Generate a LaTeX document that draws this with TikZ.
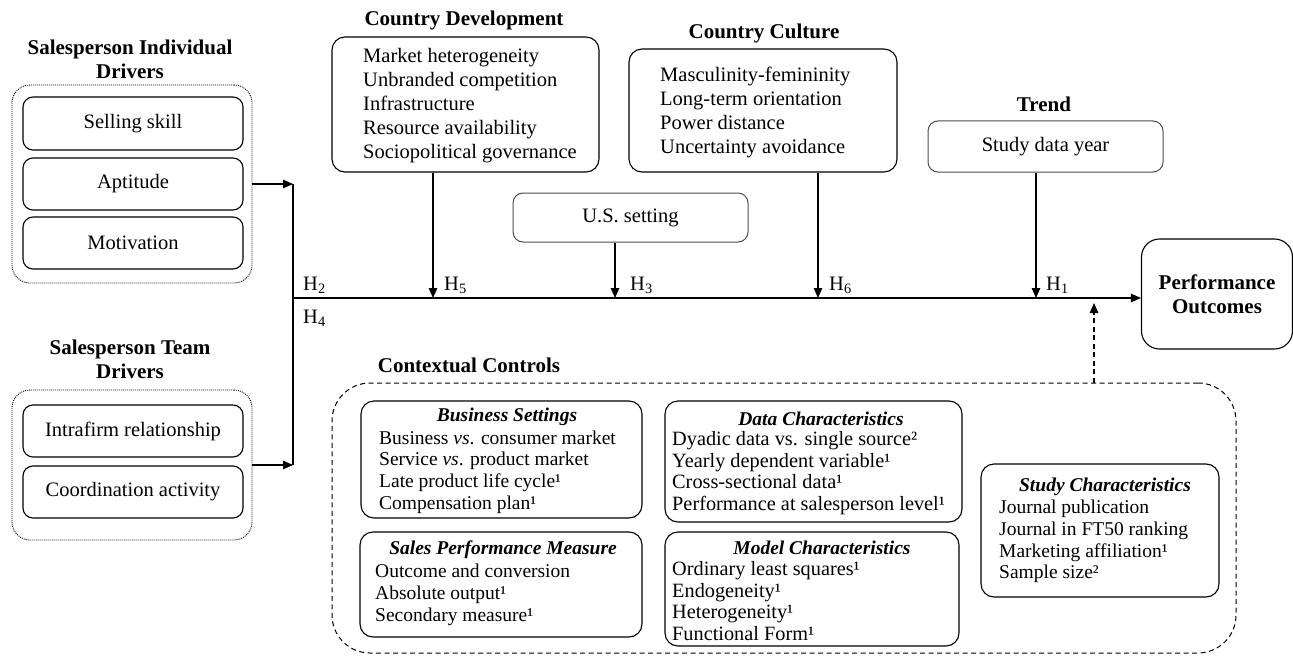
\documentclass[tikz,border=0pt]{standalone}
\usepackage{fontspec}
\setmainfont{Liberation Serif}
\usetikzlibrary{arrows.meta}
\newcommand\myMain{\fontsize{20.5}{24}\selectfont}
\newcommand\myTitle{\fontsize{21}{24}\selectfont\bfseries}
\newcommand\mySmall{\fontsize{19.5}{21.7}\selectfont}
\newcommand\myMid{\fontsize{20.3}{21.5}\selectfont}
\begin{document}
\begin{tikzpicture}[x=1pt,y=-1pt,
  box/.style={draw, rounded corners=13pt, line width=1.1pt, inner sep=0pt},
  lbox/.style={draw=black!70, rounded corners=10pt, line width=1pt, font=\myMain, inner sep=0pt},
  ibox/.style={draw, rounded corners=10pt, line width=1.1pt, font=\myMain, minimum width=220pt, inner sep=0pt},
  dotbox/.style={draw, dash pattern=on 1pt off 1pt, line width=0.9pt, rounded corners=18pt, inner sep=0pt},
  titl/.style={font=\myTitle, align=center, inner sep=0pt},
  lst/.style={font=\myMain, align=left, inner sep=0pt, anchor=west},
  slst/.style={font=\mySmall, align=left, inner sep=0pt, anchor=west},
  mlst/.style={font=\myMid, align=left, inner sep=0pt, anchor=west},
  stit/.style={font=\mySmall\bfseries\itshape, inner sep=0pt},
  hl/.style={font=\myMain, inner sep=0pt, anchor=west},
  arr/.style={-{Triangle[length=10pt,width=8.5pt]}, line width=1.1pt},
  ln/.style={line width=1.1pt}
]
\useasboundingbox (0,0) rectangle (1293,658);

% ---- Salesperson Individual Drivers
\node[titl] (sititle) at (130,59) {Salesperson Individual\\Drivers};
\node[dotbox, minimum width=240pt, minimum height=198pt] (si) at (132,184) {};
\node[ibox, minimum height=53pt] (sell) at (133,123.5) {Selling skill};
\node[ibox, minimum height=52pt] (apt) at (133,184) {Aptitude};
\node[ibox, minimum height=52pt] (mot) at (133,243) {Motivation};

% ---- Salesperson Team Drivers
\node[titl] (sttitle) at (130,359.5) {Salesperson Team\\Drivers};
\node[dotbox, minimum width=240pt, minimum height=150pt] (st) at (132,465) {};
\node[ibox, minimum height=52pt] (intra) at (133,431) {Intrafirm relationship};
\node[ibox, minimum height=52pt] (coord) at (133,492) {Coordination activity};

% ---- junctions and main path
\coordinate (j1) at (293,184);
\coordinate (j2) at (293,465);
\coordinate (jm) at (293,298);
\draw[arr] (si.east) -- (j1);
\draw[arr] (st.east) -- (j2);
\draw[ln] (j1) -- (j2);

% ---- Performance Outcomes
\node[box, rounded corners=18pt, minimum width=151pt, minimum height=110pt, font=\myTitle, align=center] (perf) at (1217,294) {Performance\\Outcomes};
\draw[arr] (jm) -- (jm -| perf.west);

% ---- Country Development
\node[titl] (devt) at (464,20) {Country Development};
\node[box, minimum width=267pt, minimum height=135pt] (dev) at (465.5,104.5) {};
\node[lst] (devtx) at (363,106) {Market heterogeneity\\Unbranded competition\\Infrastructure\\Resource availability\\Sociopolitical governance};

% ---- Country Culture
\node[titl] (cult) at (764,33) {Country Culture};
\node[box, minimum width=268pt, minimum height=123pt] (cul) at (763,110.5) {};
\node[lst] (cultx) at (660,112) {Masculinity-femininity\\Long-term orientation\\Power distance\\Uncertainty avoidance};

% ---- U.S. setting
\node[lbox, minimum width=235pt, minimum height=49pt] (us) at (630.5,217.5) {U.S. setting};

% ---- Trend
\node[titl] (trt) at (1044,104) {Trend};
\node[lbox, minimum width=235pt, minimum height=51pt] (sdy) at (1045.5,146.5) {Study data year};

% ---- moderating arrows
\coordinate (h5) at (433,298);
\coordinate (h3) at (615,298);
\coordinate (h6) at (818,298);
\coordinate (h1) at (1036,298);
\draw[arr] (dev.south -| h5) -- (h5);
\draw[arr] (us.south -| h3) -- (h3);
\draw[arr] (cul.south -| h6) -- (h6);
\draw[arr] (sdy.south -| h1) -- (h1);

% ---- hypothesis labels
\node[hl] (lh2) at (303,285) {H\textsubscript{2}};
\node[hl] (lh4) at (303,318) {H\textsubscript{4}};
\node[hl] (lh5) at (444,285) {H\textsubscript{5}};
\node[hl] (lh3) at (630,285) {H\textsubscript{3}};
\node[hl] (lh6) at (829,285) {H\textsubscript{6}};
\node[hl] (lh1) at (1046,285) {H\textsubscript{1}};

% ---- Contextual Controls
\node[titl] (ctxt) at (469,365) {Contextual Controls};
\node[draw, dash pattern=on 5pt off 3.5pt, rounded corners=38pt, line width=1pt, minimum width=904pt, minimum height=270pt, inner sep=0pt] (ctx) at (784,518) {};
\coordinate (dup) at (1094,303);
\draw[arr, dash pattern=on 5pt off 3.5pt] (ctx.north -| dup) -- (dup);

% Business Settings
\node[box, minimum width=281pt, minimum height=117pt] (bus) at (501.5,459.5) {};
\node[stit] (bust) at (507,417) {Business Settings};
\node[slst] (bustx) at (379,472) {Business \textit{vs}. consumer market\\Service \textit{vs}. product market\\Late product life cycle¹\\Compensation plan¹};

% Sales Performance Measure
\node[box, minimum width=282pt, minimum height=105pt] (sal) at (501,584.5) {};
\node[stit] (salt) at (503,550) {Sales Performance Measure};
\node[slst] (saltx) at (375,595) {Outcome and conversion\\Absolute output¹\\Secondary measure¹};

% Data Characteristics
\node[box, minimum width=297pt, minimum height=121pt] (dat) at (813.5,461.5) {};
\node[stit] (datt) at (821,419) {Data Characteristics};
\node[mlst] (dattx) at (672,473) {Dyadic data vs. single source²\\Yearly dependent variable¹\\Cross-sectional data¹\\Performance at salesperson level¹};

% Model Characteristics
\node[box, minimum width=294pt, minimum height=114pt] (mod) at (812,589) {};
\node[stit] (modt) at (822,548) {Model Characteristics};
\node[mlst] (modtx) at (672,601) {Ordinary least squares¹\\Endogeneity¹\\Heterogeneity¹\\Functional Form¹};

% Study Characteristics
\node[box, minimum width=238pt, minimum height=133pt] (stu) at (1100,530.5) {};
\node[stit] (stut) at (1105,487) {Study Characteristics};
\node[slst] (stutx) at (999,541.5) {Journal publication\\Journal in FT50 ranking\\Marketing affiliation¹\\Sample size²};
\end{tikzpicture}
\end{document}
